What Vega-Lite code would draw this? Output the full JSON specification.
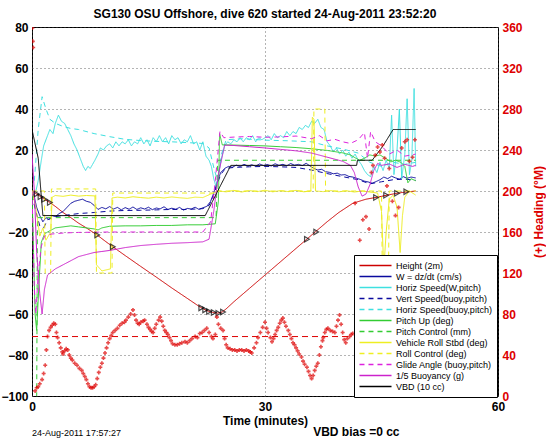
{
"$schema":"https://vega.github.io/schema/vega-lite/v6.json",
"width":466,"height":369,
"autosize":{"type":"none"},
"padding":{"left":32,"top":27,"right":48,"bottom":46},
"title":{"text":"SG130 OSU Offshore, dive 620 started 24-Aug-2011 23:52:20","fontSize":12,"fontWeight":"bold","font":"Liberation Sans","offset":0,"color":"black"},
"config":{"font":"Liberation Sans","view":{"stroke":"black","strokeWidth":1},
"axis":{"labelFontSize":12,"labelFontWeight":"bold","labelColor":"black","titleFontSize":12,"titleFontWeight":"bold","titleColor":"black","ticks":false,"domain":false,"grid":false,"labelPadding":4}},
"datasets":{
"series":[
{"s":"Height (2m)","t":0,"v":0},{"s":"Height (2m)","t":0.5,"v":-1.3},{"s":"Height (2m)","t":1,"v":-2.5},{"s":"Height (2m)","t":1.5,"v":-3.8},{"s":"Height (2m)","t":2.3,"v":-5.6},{"s":"Height (2m)","t":3,"v":-7.5},{"s":"Height (2m)","t":4,"v":-10.5},{"s":"Height (2m)","t":5,"v":-13},{"s":"Height (2m)","t":6,"v":-15.7},{"s":"Height (2m)","t":7,"v":-18},{"s":"Height (2m)","t":8.4,"v":-21.5},{"s":"Height (2m)","t":9.4,"v":-24.4},{"s":"Height (2m)","t":10.4,"v":-27.2},{"s":"Height (2m)","t":12,"v":-31.5},{"s":"Height (2m)","t":14,"v":-36.8},{"s":"Height (2m)","t":16,"v":-42},{"s":"Height (2m)","t":18,"v":-47.3},{"s":"Height (2m)","t":20,"v":-52.4},{"s":"Height (2m)","t":21.6,"v":-56.5},{"s":"Height (2m)","t":22.4,"v":-58.2},{"s":"Height (2m)","t":23.2,"v":-59.2},{"s":"Height (2m)","t":23.9,"v":-59.6},{"s":"Height (2m)","t":24.5,"v":-59},{"s":"Height (2m)","t":25,"v":-57.5},{"s":"Height (2m)","t":26,"v":-54},{"s":"Height (2m)","t":28,"v":-47.5},{"s":"Height (2m)","t":30,"v":-41},{"s":"Height (2m)","t":32,"v":-34.5},{"s":"Height (2m)","t":34,"v":-28},{"s":"Height (2m)","t":36,"v":-21.5},{"s":"Height (2m)","t":38,"v":-15},{"s":"Height (2m)","t":39.5,"v":-10.5},{"s":"Height (2m)","t":41.3,"v":-6},{"s":"Height (2m)","t":43,"v":-4},{"s":"Height (2m)","t":44.5,"v":-3},{"s":"Height (2m)","t":46,"v":-1.8},{"s":"Height (2m)","t":47.5,"v":-0.8},{"s":"Height (2m)","t":49.4,"v":0},
{"s":"W = dz/dt (cm/s)","t":0,"v":0},{"s":"W = dz/dt (cm/s)","t":0.3,"v":-3},{"s":"W = dz/dt (cm/s)","t":0.6,"v":-8},{"s":"W = dz/dt (cm/s)","t":1,"v":-12},{"s":"W = dz/dt (cm/s)","t":1.4,"v":-15},{"s":"W = dz/dt (cm/s)","t":1.8,"v":-13},{"s":"W = dz/dt (cm/s)","t":2.2,"v":-14},{"s":"W = dz/dt (cm/s)","t":2.6,"v":-12},{"s":"W = dz/dt (cm/s)","t":3,"v":-12.5},{"s":"W = dz/dt (cm/s)","t":3.5,"v":-11},{"s":"W = dz/dt (cm/s)","t":4,"v":-10},{"s":"W = dz/dt (cm/s)","t":4.5,"v":-8},{"s":"W = dz/dt (cm/s)","t":5,"v":-6},{"s":"W = dz/dt (cm/s)","t":5.5,"v":-5},{"s":"W = dz/dt (cm/s)","t":6,"v":-4.5},{"s":"W = dz/dt (cm/s)","t":6.5,"v":-4},{"s":"W = dz/dt (cm/s)","t":7,"v":-5},{"s":"W = dz/dt (cm/s)","t":7.5,"v":-5.5},{"s":"W = dz/dt (cm/s)","t":8,"v":-7},{"s":"W = dz/dt (cm/s)","t":8.5,"v":-9},{"s":"W = dz/dt (cm/s)","t":9,"v":-8},{"s":"W = dz/dt (cm/s)","t":9.5,"v":-8.7},{"s":"W = dz/dt (cm/s)","t":10,"v":-7.6},{"s":"W = dz/dt (cm/s)","t":10.5,"v":-8.8},{"s":"W = dz/dt (cm/s)","t":11,"v":-8},{"s":"W = dz/dt (cm/s)","t":11.5,"v":-9.2},{"s":"W = dz/dt (cm/s)","t":12,"v":-8.1},{"s":"W = dz/dt (cm/s)","t":12.5,"v":-8.9},{"s":"W = dz/dt (cm/s)","t":13,"v":-7.8},{"s":"W = dz/dt (cm/s)","t":13.5,"v":-9},{"s":"W = dz/dt (cm/s)","t":14,"v":-8.2},{"s":"W = dz/dt (cm/s)","t":14.5,"v":-8.8},{"s":"W = dz/dt (cm/s)","t":15,"v":-7.9},{"s":"W = dz/dt (cm/s)","t":15.5,"v":-9.1},{"s":"W = dz/dt (cm/s)","t":16,"v":-8.3},{"s":"W = dz/dt (cm/s)","t":16.5,"v":-8.7},{"s":"W = dz/dt (cm/s)","t":17,"v":-7.7},{"s":"W = dz/dt (cm/s)","t":17.5,"v":-9},{"s":"W = dz/dt (cm/s)","t":18,"v":-8.4},{"s":"W = dz/dt (cm/s)","t":18.5,"v":-8.9},{"s":"W = dz/dt (cm/s)","t":19,"v":-8},{"s":"W = dz/dt (cm/s)","t":19.5,"v":-9.3},{"s":"W = dz/dt (cm/s)","t":20,"v":-8.5},{"s":"W = dz/dt (cm/s)","t":20.5,"v":-8.8},{"s":"W = dz/dt (cm/s)","t":21,"v":-7.9},{"s":"W = dz/dt (cm/s)","t":21.5,"v":-9},{"s":"W = dz/dt (cm/s)","t":22,"v":-8.2},{"s":"W = dz/dt (cm/s)","t":22.5,"v":-7.5},{"s":"W = dz/dt (cm/s)","t":23,"v":-5},{"s":"W = dz/dt (cm/s)","t":23.4,"v":-1},{"s":"W = dz/dt (cm/s)","t":23.8,"v":4},{"s":"W = dz/dt (cm/s)","t":24.3,"v":9},{"s":"W = dz/dt (cm/s)","t":24.8,"v":11},{"s":"W = dz/dt (cm/s)","t":25.3,"v":12},{"s":"W = dz/dt (cm/s)","t":25.8,"v":11.6},{"s":"W = dz/dt (cm/s)","t":26.3,"v":12.6},{"s":"W = dz/dt (cm/s)","t":26.8,"v":12},{"s":"W = dz/dt (cm/s)","t":27.3,"v":13},{"s":"W = dz/dt (cm/s)","t":27.8,"v":12.2},{"s":"W = dz/dt (cm/s)","t":28.3,"v":12.8},{"s":"W = dz/dt (cm/s)","t":28.8,"v":12.1},{"s":"W = dz/dt (cm/s)","t":29.3,"v":13.2},{"s":"W = dz/dt (cm/s)","t":29.8,"v":12.4},{"s":"W = dz/dt (cm/s)","t":30.3,"v":12.9},{"s":"W = dz/dt (cm/s)","t":30.8,"v":12.2},{"s":"W = dz/dt (cm/s)","t":31.3,"v":13.3},{"s":"W = dz/dt (cm/s)","t":31.8,"v":12.5},{"s":"W = dz/dt (cm/s)","t":32.3,"v":13},{"s":"W = dz/dt (cm/s)","t":32.8,"v":12.3},{"s":"W = dz/dt (cm/s)","t":33.3,"v":13.4},{"s":"W = dz/dt (cm/s)","t":33.8,"v":12.6},{"s":"W = dz/dt (cm/s)","t":34.3,"v":13},{"s":"W = dz/dt (cm/s)","t":34.8,"v":12.4},{"s":"W = dz/dt (cm/s)","t":35.3,"v":13.5},{"s":"W = dz/dt (cm/s)","t":35.8,"v":12.2},{"s":"W = dz/dt (cm/s)","t":36.3,"v":11},{"s":"W = dz/dt (cm/s)","t":36.8,"v":10.2},{"s":"W = dz/dt (cm/s)","t":37.3,"v":10.6},{"s":"W = dz/dt (cm/s)","t":37.8,"v":9.4},{"s":"W = dz/dt (cm/s)","t":38.3,"v":9.1},{"s":"W = dz/dt (cm/s)","t":38.8,"v":8.4},{"s":"W = dz/dt (cm/s)","t":39.3,"v":8.7},{"s":"W = dz/dt (cm/s)","t":39.8,"v":7.8},{"s":"W = dz/dt (cm/s)","t":40.3,"v":8},{"s":"W = dz/dt (cm/s)","t":40.8,"v":7.1},{"s":"W = dz/dt (cm/s)","t":41.3,"v":6.8},{"s":"W = dz/dt (cm/s)","t":41.8,"v":6.2},{"s":"W = dz/dt (cm/s)","t":42.3,"v":5.6},{"s":"W = dz/dt (cm/s)","t":42.8,"v":4.8},{"s":"W = dz/dt (cm/s)","t":43.3,"v":4.4},{"s":"W = dz/dt (cm/s)","t":43.8,"v":3.8},{"s":"W = dz/dt (cm/s)","t":44.3,"v":4.6},{"s":"W = dz/dt (cm/s)","t":44.8,"v":5.5},{"s":"W = dz/dt (cm/s)","t":45.3,"v":6.8},{"s":"W = dz/dt (cm/s)","t":45.8,"v":6},{"s":"W = dz/dt (cm/s)","t":46.3,"v":7.2},{"s":"W = dz/dt (cm/s)","t":46.8,"v":6.4},{"s":"W = dz/dt (cm/s)","t":47.3,"v":5.8},{"s":"W = dz/dt (cm/s)","t":47.8,"v":7},{"s":"W = dz/dt (cm/s)","t":48.3,"v":6.2},{"s":"W = dz/dt (cm/s)","t":48.8,"v":6.8},{"s":"W = dz/dt (cm/s)","t":49.4,"v":6.4},
{"s":"Horiz Speed(W,pitch)","t":0.5,"v":0},{"s":"Horiz Speed(W,pitch)","t":0.8,"v":5},{"s":"Horiz Speed(W,pitch)","t":1.2,"v":15},{"s":"Horiz Speed(W,pitch)","t":1.5,"v":22},{"s":"Horiz Speed(W,pitch)","t":2,"v":27},{"s":"Horiz Speed(W,pitch)","t":2.3,"v":30},{"s":"Horiz Speed(W,pitch)","t":2.7,"v":28},{"s":"Horiz Speed(W,pitch)","t":3,"v":33},{"s":"Horiz Speed(W,pitch)","t":3.4,"v":37},{"s":"Horiz Speed(W,pitch)","t":3.8,"v":34},{"s":"Horiz Speed(W,pitch)","t":4.2,"v":33},{"s":"Horiz Speed(W,pitch)","t":4.6,"v":30},{"s":"Horiz Speed(W,pitch)","t":5,"v":27},{"s":"Horiz Speed(W,pitch)","t":5.4,"v":23},{"s":"Horiz Speed(W,pitch)","t":5.8,"v":20},{"s":"Horiz Speed(W,pitch)","t":6.2,"v":16},{"s":"Horiz Speed(W,pitch)","t":6.6,"v":12},{"s":"Horiz Speed(W,pitch)","t":6.9,"v":10},{"s":"Horiz Speed(W,pitch)","t":7.2,"v":12},{"s":"Horiz Speed(W,pitch)","t":7.5,"v":11},{"s":"Horiz Speed(W,pitch)","t":7.8,"v":13},{"s":"Horiz Speed(W,pitch)","t":8.1,"v":15},{"s":"Horiz Speed(W,pitch)","t":8.5,"v":18},{"s":"Horiz Speed(W,pitch)","t":8.8,"v":21},{"s":"Horiz Speed(W,pitch)","t":9.2,"v":20},{"s":"Horiz Speed(W,pitch)","t":9.6,"v":22},{"s":"Horiz Speed(W,pitch)","t":10,"v":23},{"s":"Horiz Speed(W,pitch)","t":10.4,"v":21},{"s":"Horiz Speed(W,pitch)","t":10.8,"v":24},{"s":"Horiz Speed(W,pitch)","t":11.2,"v":22},{"s":"Horiz Speed(W,pitch)","t":11.6,"v":24},{"s":"Horiz Speed(W,pitch)","t":12,"v":23},{"s":"Horiz Speed(W,pitch)","t":12.4,"v":25},{"s":"Horiz Speed(W,pitch)","t":12.8,"v":22},{"s":"Horiz Speed(W,pitch)","t":13.2,"v":24},{"s":"Horiz Speed(W,pitch)","t":13.6,"v":23},{"s":"Horiz Speed(W,pitch)","t":14,"v":26},{"s":"Horiz Speed(W,pitch)","t":14.4,"v":23},{"s":"Horiz Speed(W,pitch)","t":14.8,"v":25},{"s":"Horiz Speed(W,pitch)","t":15.2,"v":22},{"s":"Horiz Speed(W,pitch)","t":15.6,"v":26},{"s":"Horiz Speed(W,pitch)","t":16,"v":24},{"s":"Horiz Speed(W,pitch)","t":16.4,"v":27},{"s":"Horiz Speed(W,pitch)","t":16.8,"v":24},{"s":"Horiz Speed(W,pitch)","t":17.2,"v":26},{"s":"Horiz Speed(W,pitch)","t":17.6,"v":23},{"s":"Horiz Speed(W,pitch)","t":18,"v":27},{"s":"Horiz Speed(W,pitch)","t":18.4,"v":25},{"s":"Horiz Speed(W,pitch)","t":18.8,"v":26},{"s":"Horiz Speed(W,pitch)","t":19.2,"v":23},{"s":"Horiz Speed(W,pitch)","t":19.6,"v":25},{"s":"Horiz Speed(W,pitch)","t":20,"v":24},{"s":"Horiz Speed(W,pitch)","t":20.4,"v":27},{"s":"Horiz Speed(W,pitch)","t":20.8,"v":23},{"s":"Horiz Speed(W,pitch)","t":21.2,"v":24},{"s":"Horiz Speed(W,pitch)","t":21.6,"v":20},{"s":"Horiz Speed(W,pitch)","t":22,"v":24},{"s":"Horiz Speed(W,pitch)","t":22.4,"v":17},{"s":"Horiz Speed(W,pitch)","t":22.8,"v":15},{"s":"Horiz Speed(W,pitch)","t":23.1,"v":12},{"s":"Horiz Speed(W,pitch)","t":23.4,"v":6},{"s":"Horiz Speed(W,pitch)","t":23.7,"v":2},{"s":"Horiz Speed(W,pitch)","t":24,"v":8},{"s":"Horiz Speed(W,pitch)","t":24.4,"v":16},{"s":"Horiz Speed(W,pitch)","t":24.8,"v":22},{"s":"Horiz Speed(W,pitch)","t":25.2,"v":24},{"s":"Horiz Speed(W,pitch)","t":25.6,"v":23},{"s":"Horiz Speed(W,pitch)","t":26,"v":25},{"s":"Horiz Speed(W,pitch)","t":26.4,"v":24},{"s":"Horiz Speed(W,pitch)","t":26.8,"v":26},{"s":"Horiz Speed(W,pitch)","t":27.2,"v":24},{"s":"Horiz Speed(W,pitch)","t":27.6,"v":26},{"s":"Horiz Speed(W,pitch)","t":28,"v":25},{"s":"Horiz Speed(W,pitch)","t":28.4,"v":27},{"s":"Horiz Speed(W,pitch)","t":28.8,"v":24},{"s":"Horiz Speed(W,pitch)","t":29.2,"v":26},{"s":"Horiz Speed(W,pitch)","t":29.6,"v":25},{"s":"Horiz Speed(W,pitch)","t":30,"v":26},{"s":"Horiz Speed(W,pitch)","t":30.4,"v":27},{"s":"Horiz Speed(W,pitch)","t":30.8,"v":25},{"s":"Horiz Speed(W,pitch)","t":31.2,"v":28},{"s":"Horiz Speed(W,pitch)","t":31.6,"v":26},{"s":"Horiz Speed(W,pitch)","t":32,"v":27},{"s":"Horiz Speed(W,pitch)","t":32.4,"v":26},{"s":"Horiz Speed(W,pitch)","t":32.8,"v":29},{"s":"Horiz Speed(W,pitch)","t":33.2,"v":27},{"s":"Horiz Speed(W,pitch)","t":33.6,"v":29},{"s":"Horiz Speed(W,pitch)","t":34,"v":28},{"s":"Horiz Speed(W,pitch)","t":34.4,"v":31},{"s":"Horiz Speed(W,pitch)","t":34.8,"v":30},{"s":"Horiz Speed(W,pitch)","t":35.2,"v":32},{"s":"Horiz Speed(W,pitch)","t":35.6,"v":31},{"s":"Horiz Speed(W,pitch)","t":36,"v":34},{"s":"Horiz Speed(W,pitch)","t":36.4,"v":33},{"s":"Horiz Speed(W,pitch)","t":36.8,"v":35},{"s":"Horiz Speed(W,pitch)","t":37.2,"v":31},{"s":"Horiz Speed(W,pitch)","t":37.6,"v":30},{"s":"Horiz Speed(W,pitch)","t":38,"v":24},{"s":"Horiz Speed(W,pitch)","t":38.4,"v":22},{"s":"Horiz Speed(W,pitch)","t":38.8,"v":19},{"s":"Horiz Speed(W,pitch)","t":39.2,"v":21},{"s":"Horiz Speed(W,pitch)","t":39.6,"v":18},{"s":"Horiz Speed(W,pitch)","t":40,"v":20},{"s":"Horiz Speed(W,pitch)","t":40.4,"v":17},{"s":"Horiz Speed(W,pitch)","t":40.8,"v":19},{"s":"Horiz Speed(W,pitch)","t":41.2,"v":16},{"s":"Horiz Speed(W,pitch)","t":41.6,"v":18},{"s":"Horiz Speed(W,pitch)","t":42,"v":15},{"s":"Horiz Speed(W,pitch)","t":42.4,"v":13},{"s":"Horiz Speed(W,pitch)","t":42.8,"v":10},{"s":"Horiz Speed(W,pitch)","t":43.2,"v":8},{"s":"Horiz Speed(W,pitch)","t":43.6,"v":7},{"s":"Horiz Speed(W,pitch)","t":44,"v":12},{"s":"Horiz Speed(W,pitch)","t":44.4,"v":9},{"s":"Horiz Speed(W,pitch)","t":44.8,"v":14},{"s":"Horiz Speed(W,pitch)","t":45.2,"v":10},{"s":"Horiz Speed(W,pitch)","t":45.6,"v":15},{"s":"Horiz Speed(W,pitch)","t":46,"v":11},{"s":"Horiz Speed(W,pitch)","t":46.3,"v":37},{"s":"Horiz Speed(W,pitch)","t":46.6,"v":8},{"s":"Horiz Speed(W,pitch)","t":47,"v":20},{"s":"Horiz Speed(W,pitch)","t":47.3,"v":40},{"s":"Horiz Speed(W,pitch)","t":47.6,"v":6},{"s":"Horiz Speed(W,pitch)","t":48,"v":18},{"s":"Horiz Speed(W,pitch)","t":48.3,"v":45},{"s":"Horiz Speed(W,pitch)","t":48.6,"v":8},{"s":"Horiz Speed(W,pitch)","t":48.9,"v":15},{"s":"Horiz Speed(W,pitch)","t":49.2,"v":50},{"s":"Horiz Speed(W,pitch)","t":49.4,"v":12},
{"s":"Vert Speed(buoy,pitch)","t":0,"v":-2},{"s":"Vert Speed(buoy,pitch)","t":0.5,"v":-10},{"s":"Vert Speed(buoy,pitch)","t":1,"v":-17},{"s":"Vert Speed(buoy,pitch)","t":1.5,"v":-18},{"s":"Vert Speed(buoy,pitch)","t":2,"v":-14},{"s":"Vert Speed(buoy,pitch)","t":3,"v":-12.5},{"s":"Vert Speed(buoy,pitch)","t":4,"v":-12},{"s":"Vert Speed(buoy,pitch)","t":5,"v":-11.5},{"s":"Vert Speed(buoy,pitch)","t":6,"v":-11},{"s":"Vert Speed(buoy,pitch)","t":8,"v":-10.5},{"s":"Vert Speed(buoy,pitch)","t":10,"v":-9.8},{"s":"Vert Speed(buoy,pitch)","t":12,"v":-9.5},{"s":"Vert Speed(buoy,pitch)","t":14,"v":-9.4},{"s":"Vert Speed(buoy,pitch)","t":16,"v":-9.2},{"s":"Vert Speed(buoy,pitch)","t":18,"v":-9},{"s":"Vert Speed(buoy,pitch)","t":20,"v":-9},{"s":"Vert Speed(buoy,pitch)","t":22,"v":-8.6},{"s":"Vert Speed(buoy,pitch)","t":22.8,"v":-7},{"s":"Vert Speed(buoy,pitch)","t":23.3,"v":-3},{"s":"Vert Speed(buoy,pitch)","t":23.8,"v":3},{"s":"Vert Speed(buoy,pitch)","t":24.3,"v":8},{"s":"Vert Speed(buoy,pitch)","t":24.9,"v":11},{"s":"Vert Speed(buoy,pitch)","t":26,"v":11.5},{"s":"Vert Speed(buoy,pitch)","t":28,"v":11.8},{"s":"Vert Speed(buoy,pitch)","t":30,"v":12},{"s":"Vert Speed(buoy,pitch)","t":32,"v":11.8},{"s":"Vert Speed(buoy,pitch)","t":34,"v":11.5},{"s":"Vert Speed(buoy,pitch)","t":36,"v":10.2},{"s":"Vert Speed(buoy,pitch)","t":38,"v":8.5},{"s":"Vert Speed(buoy,pitch)","t":40,"v":7},{"s":"Vert Speed(buoy,pitch)","t":42,"v":5.5},{"s":"Vert Speed(buoy,pitch)","t":43.5,"v":3.5},{"s":"Vert Speed(buoy,pitch)","t":45,"v":4.5},{"s":"Vert Speed(buoy,pitch)","t":46.5,"v":5.5},{"s":"Vert Speed(buoy,pitch)","t":48,"v":5.8},{"s":"Vert Speed(buoy,pitch)","t":49.4,"v":5.2},
{"s":"Horiz Speed(buoy,pitch)","t":0.3,"v":5},{"s":"Horiz Speed(buoy,pitch)","t":0.8,"v":30},{"s":"Horiz Speed(buoy,pitch)","t":1.3,"v":46},{"s":"Horiz Speed(buoy,pitch)","t":1.8,"v":40},{"s":"Horiz Speed(buoy,pitch)","t":2.3,"v":35},{"s":"Horiz Speed(buoy,pitch)","t":3,"v":33},{"s":"Horiz Speed(buoy,pitch)","t":4,"v":31.5},{"s":"Horiz Speed(buoy,pitch)","t":5,"v":30.5},{"s":"Horiz Speed(buoy,pitch)","t":6,"v":30},{"s":"Horiz Speed(buoy,pitch)","t":8,"v":28},{"s":"Horiz Speed(buoy,pitch)","t":10,"v":26.5},{"s":"Horiz Speed(buoy,pitch)","t":12,"v":25.2},{"s":"Horiz Speed(buoy,pitch)","t":14,"v":24.6},{"s":"Horiz Speed(buoy,pitch)","t":16,"v":24.2},{"s":"Horiz Speed(buoy,pitch)","t":18,"v":24},{"s":"Horiz Speed(buoy,pitch)","t":20,"v":23.6},{"s":"Horiz Speed(buoy,pitch)","t":22,"v":23.2},{"s":"Horiz Speed(buoy,pitch)","t":22.8,"v":21},{"s":"Horiz Speed(buoy,pitch)","t":23.5,"v":10},{"s":"Horiz Speed(buoy,pitch)","t":23.9,"v":5},{"s":"Horiz Speed(buoy,pitch)","t":24.4,"v":18},{"s":"Horiz Speed(buoy,pitch)","t":25,"v":25},{"s":"Horiz Speed(buoy,pitch)","t":27,"v":25.5},{"s":"Horiz Speed(buoy,pitch)","t":30,"v":24.8},{"s":"Horiz Speed(buoy,pitch)","t":33,"v":24.5},{"s":"Horiz Speed(buoy,pitch)","t":36,"v":24},{"s":"Horiz Speed(buoy,pitch)","t":38,"v":22},{"s":"Horiz Speed(buoy,pitch)","t":40,"v":20.5},{"s":"Horiz Speed(buoy,pitch)","t":42,"v":18.5},{"s":"Horiz Speed(buoy,pitch)","t":43.5,"v":14},{"s":"Horiz Speed(buoy,pitch)","t":45,"v":12},{"s":"Horiz Speed(buoy,pitch)","t":46.5,"v":14},{"s":"Horiz Speed(buoy,pitch)","t":48,"v":13},{"s":"Horiz Speed(buoy,pitch)","t":49.4,"v":14},
{"s":"Pitch Up (deg)","t":0,"v":0},{"s":"Pitch Up (deg)","t":0.2,"v":-30},{"s":"Pitch Up (deg)","t":0.4,"v":-60},{"s":"Pitch Up (deg)","t":0.6,"v":-68},{"s":"Pitch Up (deg)","t":0.9,"v":-45},{"s":"Pitch Up (deg)","t":1.2,"v":-25},{"s":"Pitch Up (deg)","t":1.6,"v":-21},{"s":"Pitch Up (deg)","t":2,"v":-20},{"s":"Pitch Up (deg)","t":2.5,"v":-19},{"s":"Pitch Up (deg)","t":3,"v":-18},{"s":"Pitch Up (deg)","t":4,"v":-17.5},{"s":"Pitch Up (deg)","t":5,"v":-17},{"s":"Pitch Up (deg)","t":6,"v":-17.5},{"s":"Pitch Up (deg)","t":7,"v":-18},{"s":"Pitch Up (deg)","t":8,"v":-18.5},{"s":"Pitch Up (deg)","t":8.5,"v":-19},{"s":"Pitch Up (deg)","t":9,"v":-18},{"s":"Pitch Up (deg)","t":10,"v":-17.2},{"s":"Pitch Up (deg)","t":12,"v":-17},{"s":"Pitch Up (deg)","t":14,"v":-17},{"s":"Pitch Up (deg)","t":16,"v":-16.8},{"s":"Pitch Up (deg)","t":18,"v":-16.8},{"s":"Pitch Up (deg)","t":20,"v":-16.5},{"s":"Pitch Up (deg)","t":22,"v":-16.5},{"s":"Pitch Up (deg)","t":23.6,"v":-16},{"s":"Pitch Up (deg)","t":24,"v":-5},{"s":"Pitch Up (deg)","t":24.15,"v":28},{"s":"Pitch Up (deg)","t":24.5,"v":22.5},{"s":"Pitch Up (deg)","t":26,"v":22.4},{"s":"Pitch Up (deg)","t":28,"v":22.2},{"s":"Pitch Up (deg)","t":30,"v":22},{"s":"Pitch Up (deg)","t":32,"v":21.6},{"s":"Pitch Up (deg)","t":34,"v":21.2},{"s":"Pitch Up (deg)","t":36,"v":20.6},{"s":"Pitch Up (deg)","t":38,"v":19.8},{"s":"Pitch Up (deg)","t":40,"v":18.6},{"s":"Pitch Up (deg)","t":41,"v":17.6},{"s":"Pitch Up (deg)","t":41.6,"v":16.2},{"s":"Pitch Up (deg)","t":42.2,"v":15},{"s":"Pitch Up (deg)","t":42.8,"v":16},{"s":"Pitch Up (deg)","t":43.5,"v":17.6},{"s":"Pitch Up (deg)","t":44.2,"v":17},{"s":"Pitch Up (deg)","t":44.8,"v":17.6},{"s":"Pitch Up (deg)","t":45.5,"v":16},{"s":"Pitch Up (deg)","t":46.2,"v":14.2},{"s":"Pitch Up (deg)","t":46.8,"v":15},{"s":"Pitch Up (deg)","t":47.5,"v":14},{"s":"Pitch Up (deg)","t":48,"v":12},{"s":"Pitch Up (deg)","t":48.4,"v":4},{"s":"Pitch Up (deg)","t":48.8,"v":6},{"s":"Pitch Up (deg)","t":49.4,"v":5},
{"s":"Pitch Control (mm)","t":0.6,"v":-105},{"s":"Pitch Control (mm)","t":0.7,"v":-13},{"s":"Pitch Control (mm)","t":23.7,"v":-13},{"s":"Pitch Control (mm)","t":23.9,"v":15},{"s":"Pitch Control (mm)","t":49.4,"v":15},
{"s":"Vehicle Roll Stbd (deg)","t":0,"v":0},{"s":"Vehicle Roll Stbd (deg)","t":0.5,"v":-8},{"s":"Vehicle Roll Stbd (deg)","t":1,"v":-22},{"s":"Vehicle Roll Stbd (deg)","t":1.4,"v":-18},{"s":"Vehicle Roll Stbd (deg)","t":1.8,"v":-24},{"s":"Vehicle Roll Stbd (deg)","t":2.4,"v":-20},{"s":"Vehicle Roll Stbd (deg)","t":2.6,"v":-3},{"s":"Vehicle Roll Stbd (deg)","t":3,"v":-2.2},{"s":"Vehicle Roll Stbd (deg)","t":4,"v":-2.6},{"s":"Vehicle Roll Stbd (deg)","t":5,"v":-2},{"s":"Vehicle Roll Stbd (deg)","t":6,"v":-2.5},{"s":"Vehicle Roll Stbd (deg)","t":7,"v":-2.2},{"s":"Vehicle Roll Stbd (deg)","t":8.1,"v":-2.4},{"s":"Vehicle Roll Stbd (deg)","t":8.3,"v":-36},{"s":"Vehicle Roll Stbd (deg)","t":9,"v":-39},{"s":"Vehicle Roll Stbd (deg)","t":10.1,"v":-38},{"s":"Vehicle Roll Stbd (deg)","t":10.3,"v":-3.4},{"s":"Vehicle Roll Stbd (deg)","t":11,"v":-3},{"s":"Vehicle Roll Stbd (deg)","t":12,"v":-3.4},{"s":"Vehicle Roll Stbd (deg)","t":13,"v":-2.8},{"s":"Vehicle Roll Stbd (deg)","t":14,"v":-3.2},{"s":"Vehicle Roll Stbd (deg)","t":15,"v":-3.5},{"s":"Vehicle Roll Stbd (deg)","t":16,"v":-3},{"s":"Vehicle Roll Stbd (deg)","t":17,"v":-3.4},{"s":"Vehicle Roll Stbd (deg)","t":18,"v":-2.9},{"s":"Vehicle Roll Stbd (deg)","t":19,"v":-3.3},{"s":"Vehicle Roll Stbd (deg)","t":20,"v":-3.6},{"s":"Vehicle Roll Stbd (deg)","t":21,"v":-3},{"s":"Vehicle Roll Stbd (deg)","t":22,"v":-3.2},{"s":"Vehicle Roll Stbd (deg)","t":23,"v":-1.5},{"s":"Vehicle Roll Stbd (deg)","t":24,"v":0},{"s":"Vehicle Roll Stbd (deg)","t":25,"v":-0.4},{"s":"Vehicle Roll Stbd (deg)","t":26,"v":0.3},{"s":"Vehicle Roll Stbd (deg)","t":27,"v":-0.5},{"s":"Vehicle Roll Stbd (deg)","t":28,"v":0.2},{"s":"Vehicle Roll Stbd (deg)","t":29,"v":-0.3},{"s":"Vehicle Roll Stbd (deg)","t":30,"v":0.4},{"s":"Vehicle Roll Stbd (deg)","t":31,"v":-0.4},{"s":"Vehicle Roll Stbd (deg)","t":32,"v":0.2},{"s":"Vehicle Roll Stbd (deg)","t":33,"v":-0.3},{"s":"Vehicle Roll Stbd (deg)","t":34,"v":0.3},{"s":"Vehicle Roll Stbd (deg)","t":35,"v":-0.4},{"s":"Vehicle Roll Stbd (deg)","t":35.9,"v":0},{"s":"Vehicle Roll Stbd (deg)","t":36.1,"v":36},{"s":"Vehicle Roll Stbd (deg)","t":36.3,"v":35},{"s":"Vehicle Roll Stbd (deg)","t":36.5,"v":0},{"s":"Vehicle Roll Stbd (deg)","t":37.5,"v":-0.3},{"s":"Vehicle Roll Stbd (deg)","t":38.5,"v":0.2},{"s":"Vehicle Roll Stbd (deg)","t":39.5,"v":-0.4},{"s":"Vehicle Roll Stbd (deg)","t":40.5,"v":0.1},{"s":"Vehicle Roll Stbd (deg)","t":41.5,"v":-0.5},{"s":"Vehicle Roll Stbd (deg)","t":42.5,"v":0},{"s":"Vehicle Roll Stbd (deg)","t":43.5,"v":-0.5},{"s":"Vehicle Roll Stbd (deg)","t":44.5,"v":-1},{"s":"Vehicle Roll Stbd (deg)","t":45,"v":-10},{"s":"Vehicle Roll Stbd (deg)","t":45.3,"v":-38},{"s":"Vehicle Roll Stbd (deg)","t":45.6,"v":-20},{"s":"Vehicle Roll Stbd (deg)","t":46,"v":-4},{"s":"Vehicle Roll Stbd (deg)","t":46.5,"v":-2},{"s":"Vehicle Roll Stbd (deg)","t":47,"v":-8},{"s":"Vehicle Roll Stbd (deg)","t":47.4,"v":-30},{"s":"Vehicle Roll Stbd (deg)","t":47.7,"v":-12},{"s":"Vehicle Roll Stbd (deg)","t":48,"v":-3},{"s":"Vehicle Roll Stbd (deg)","t":48.6,"v":0},{"s":"Vehicle Roll Stbd (deg)","t":49.4,"v":-2},
{"s":"Roll Control (deg)","t":0,"v":0},{"s":"Roll Control (deg)","t":1.6,"v":0},{"s":"Roll Control (deg)","t":1.7,"v":-40},{"s":"Roll Control (deg)","t":2.4,"v":-40},{"s":"Roll Control (deg)","t":2.5,"v":1},{"s":"Roll Control (deg)","t":8.2,"v":1},{"s":"Roll Control (deg)","t":8.3,"v":-40},{"s":"Roll Control (deg)","t":10.3,"v":-40},{"s":"Roll Control (deg)","t":10.4,"v":-1},{"s":"Roll Control (deg)","t":23.5,"v":-1},{"s":"Roll Control (deg)","t":23.6,"v":0},{"s":"Roll Control (deg)","t":36.2,"v":0},{"s":"Roll Control (deg)","t":36.3,"v":40},{"s":"Roll Control (deg)","t":37.7,"v":40},{"s":"Roll Control (deg)","t":37.8,"v":0},{"s":"Roll Control (deg)","t":45,"v":0},{"s":"Roll Control (deg)","t":45.1,"v":-40},{"s":"Roll Control (deg)","t":45.9,"v":-40},{"s":"Roll Control (deg)","t":46,"v":0},{"s":"Roll Control (deg)","t":49.4,"v":0},
{"s":"Glide Angle (buoy,pitch)","t":0,"v":0},{"s":"Glide Angle (buoy,pitch)","t":0.3,"v":-48},{"s":"Glide Angle (buoy,pitch)","t":0.5,"v":-60},{"s":"Glide Angle (buoy,pitch)","t":0.8,"v":-40},{"s":"Glide Angle (buoy,pitch)","t":1.2,"v":-27},{"s":"Glide Angle (buoy,pitch)","t":1.6,"v":-22},{"s":"Glide Angle (buoy,pitch)","t":2.5,"v":-21},{"s":"Glide Angle (buoy,pitch)","t":4,"v":-20.5},{"s":"Glide Angle (buoy,pitch)","t":6,"v":-20.2},{"s":"Glide Angle (buoy,pitch)","t":10,"v":-20},{"s":"Glide Angle (buoy,pitch)","t":16,"v":-20},{"s":"Glide Angle (buoy,pitch)","t":22,"v":-20},{"s":"Glide Angle (buoy,pitch)","t":23,"v":-15},{"s":"Glide Angle (buoy,pitch)","t":23.6,"v":5},{"s":"Glide Angle (buoy,pitch)","t":24.2,"v":29},{"s":"Glide Angle (buoy,pitch)","t":24.7,"v":26},{"s":"Glide Angle (buoy,pitch)","t":26,"v":26.3},{"s":"Glide Angle (buoy,pitch)","t":28,"v":26.6},{"s":"Glide Angle (buoy,pitch)","t":30,"v":26.2},{"s":"Glide Angle (buoy,pitch)","t":32,"v":26.4},{"s":"Glide Angle (buoy,pitch)","t":34,"v":26.8},{"s":"Glide Angle (buoy,pitch)","t":36,"v":25.5},{"s":"Glide Angle (buoy,pitch)","t":37,"v":27},{"s":"Glide Angle (buoy,pitch)","t":38,"v":24.5},{"s":"Glide Angle (buoy,pitch)","t":39,"v":25.2},{"s":"Glide Angle (buoy,pitch)","t":40,"v":24},{"s":"Glide Angle (buoy,pitch)","t":41,"v":23.2},{"s":"Glide Angle (buoy,pitch)","t":42,"v":25},{"s":"Glide Angle (buoy,pitch)","t":42.8,"v":28.5},{"s":"Glide Angle (buoy,pitch)","t":43.2,"v":16},{"s":"Glide Angle (buoy,pitch)","t":43.6,"v":29},{"s":"Glide Angle (buoy,pitch)","t":44.2,"v":24},{"s":"Glide Angle (buoy,pitch)","t":45,"v":22},{"s":"Glide Angle (buoy,pitch)","t":46,"v":18},{"s":"Glide Angle (buoy,pitch)","t":47,"v":20},{"s":"Glide Angle (buoy,pitch)","t":48,"v":17},{"s":"Glide Angle (buoy,pitch)","t":49.4,"v":18},
{"s":"1/5 Buoyancy (g)","t":0,"v":18},{"s":"1/5 Buoyancy (g)","t":0.3,"v":0},{"s":"1/5 Buoyancy (g)","t":0.6,"v":-30},{"s":"1/5 Buoyancy (g)","t":1,"v":-50},{"s":"1/5 Buoyancy (g)","t":1.3,"v":-60},{"s":"1/5 Buoyancy (g)","t":1.6,"v":-48},{"s":"1/5 Buoyancy (g)","t":2,"v":-41},{"s":"1/5 Buoyancy (g)","t":3,"v":-38},{"s":"1/5 Buoyancy (g)","t":4,"v":-36},{"s":"1/5 Buoyancy (g)","t":5,"v":-34},{"s":"1/5 Buoyancy (g)","t":6,"v":-32},{"s":"1/5 Buoyancy (g)","t":7,"v":-31},{"s":"1/5 Buoyancy (g)","t":8,"v":-30},{"s":"1/5 Buoyancy (g)","t":9,"v":-29.5},{"s":"1/5 Buoyancy (g)","t":10,"v":-29},{"s":"1/5 Buoyancy (g)","t":11,"v":-28.3},{"s":"1/5 Buoyancy (g)","t":12,"v":-27.6},{"s":"1/5 Buoyancy (g)","t":14,"v":-26.6},{"s":"1/5 Buoyancy (g)","t":16,"v":-26},{"s":"1/5 Buoyancy (g)","t":18,"v":-25.5},{"s":"1/5 Buoyancy (g)","t":20,"v":-25.2},{"s":"1/5 Buoyancy (g)","t":22,"v":-24.8},{"s":"1/5 Buoyancy (g)","t":22.8,"v":-23.5},{"s":"1/5 Buoyancy (g)","t":23.4,"v":-10},{"s":"1/5 Buoyancy (g)","t":24,"v":8},{"s":"1/5 Buoyancy (g)","t":24.8,"v":22.4},{"s":"1/5 Buoyancy (g)","t":26,"v":22.2},{"s":"1/5 Buoyancy (g)","t":28,"v":21.6},{"s":"1/5 Buoyancy (g)","t":30,"v":21},{"s":"1/5 Buoyancy (g)","t":32,"v":20.3},{"s":"1/5 Buoyancy (g)","t":34,"v":19.6},{"s":"1/5 Buoyancy (g)","t":36,"v":18.5},{"s":"1/5 Buoyancy (g)","t":38,"v":16.5},{"s":"1/5 Buoyancy (g)","t":40,"v":14.5},{"s":"1/5 Buoyancy (g)","t":41,"v":12.5},{"s":"1/5 Buoyancy (g)","t":41.5,"v":9},{"s":"1/5 Buoyancy (g)","t":42,"v":2},{"s":"1/5 Buoyancy (g)","t":42.5,"v":-2.5},{"s":"1/5 Buoyancy (g)","t":43,"v":-1.5},{"s":"1/5 Buoyancy (g)","t":43.5,"v":3},{"s":"1/5 Buoyancy (g)","t":44,"v":10},{"s":"1/5 Buoyancy (g)","t":44.5,"v":13.5},{"s":"1/5 Buoyancy (g)","t":45,"v":12.5},{"s":"1/5 Buoyancy (g)","t":46,"v":13.2},{"s":"1/5 Buoyancy (g)","t":47,"v":11.5},{"s":"1/5 Buoyancy (g)","t":48,"v":13},{"s":"1/5 Buoyancy (g)","t":49,"v":12},{"s":"1/5 Buoyancy (g)","t":49.4,"v":12.5},
{"s":"VBD (10 cc)","t":0,"v":30},{"s":"VBD (10 cc)","t":0.8,"v":16},{"s":"VBD (10 cc)","t":1.4,"v":-12},{"s":"VBD (10 cc)","t":22.3,"v":-12},{"s":"VBD (10 cc)","t":25.6,"v":12.5},{"s":"VBD (10 cc)","t":41.8,"v":12.5},{"s":"VBD (10 cc)","t":41.9,"v":15},{"s":"VBD (10 cc)","t":43.8,"v":15},{"s":"VBD (10 cc)","t":45.2,"v":22},{"s":"VBD (10 cc)","t":46.5,"v":30},{"s":"VBD (10 cc)","t":49.4,"v":30}
],
"markers":[{"t":0.6,"v":-1.5},{"t":1.1,"v":-2.8},{"t":1.6,"v":-4},{"t":2.3,"v":-5.6},{"t":8.4,"v":-21.5},{"t":10.4,"v":-27.2},{"t":21.8,"v":-57},{"t":22.3,"v":-58},{"t":22.8,"v":-58.8},{"t":23.4,"v":-59.3},{"t":24,"v":-59.6},{"t":24.6,"v":-59},{"t":35.4,"v":-23.5},{"t":36.6,"v":-20},{"t":44.3,"v":-3.2},{"t":45.6,"v":-2.1},{"t":47,"v":-1.1},{"t":48.2,"v":-0.4}],
"notes":[{"t":0,"v":-119.5,"txt":"24-Aug-2011 17:57:27"}],
"notes2":[{"t":36.2,"v":-119.5,"txt":"VBD bias =0 cc"}],
"target":[{"t":0,"t2":41,"h":58}],
"heading":[{"t":0.05,"h":359},{"t":0.1,"h":346},{"t":0.15,"h":340},{"t":0.4,"h":5},{"t":0.6,"h":8},{"t":0.8,"h":9},{"t":1.0,"h":12},{"t":1.3,"h":16},{"t":1.5,"h":22},{"t":1.7,"h":30},{"t":1.85,"h":45},{"t":2.0,"h":58},{"t":2.2,"h":64},{"t":2.4,"h":67},{"t":2.6,"h":69},{"t":2.8,"h":71},{"t":3.0,"h":70},{"t":3.15,"h":62},{"t":3.3,"h":57},{"t":3.5,"h":52},{"t":3.7,"h":47},{"t":3.9,"h":43},{"t":4.0,"h":41},{"t":4.2,"h":44},{"t":4.4,"h":46},{"t":4.6,"h":45},{"t":4.8,"h":40},{"t":5.0,"h":37},{"t":5.2,"h":35},{"t":5.5,"h":32},{"t":5.8,"h":30},{"t":6.1,"h":27},{"t":6.4,"h":25},{"t":6.6,"h":22},{"t":6.8,"h":19},{"t":7.0,"h":16},{"t":7.2,"h":12},{"t":7.4,"h":9},{"t":7.6,"h":8},{"t":7.8,"h":8},{"t":8.0,"h":9},{"t":8.2,"h":11},{"t":8.4,"h":17},{"t":8.6,"h":23},{"t":8.8,"h":28},{"t":9.0,"h":32},{"t":9.2,"h":37},{"t":9.4,"h":42},{"t":9.6,"h":47},{"t":9.8,"h":52},{"t":10.0,"h":56},{"t":10.2,"h":59},{"t":10.4,"h":62},{"t":10.7,"h":64},{"t":11.0,"h":66},{"t":11.3,"h":69},{"t":11.6,"h":71},{"t":11.9,"h":72},{"t":12.1,"h":74},{"t":12.4,"h":77},{"t":12.7,"h":80},{"t":13.0,"h":84},{"t":13.2,"h":79},{"t":13.4,"h":74},{"t":13.6,"h":71},{"t":13.8,"h":70},{"t":14.0,"h":72},{"t":14.3,"h":73},{"t":14.5,"h":74},{"t":14.8,"h":70},{"t":15.0,"h":67},{"t":15.2,"h":65},{"t":15.4,"h":63},{"t":15.6,"h":62},{"t":15.8,"h":66},{"t":16.0,"h":70},{"t":16.3,"h":74},{"t":16.5,"h":77},{"t":16.7,"h":73},{"t":16.9,"h":68},{"t":17.1,"h":64},{"t":17.3,"h":62},{"t":17.5,"h":60},{"t":17.7,"h":57},{"t":17.9,"h":54},{"t":18.1,"h":51},{"t":18.4,"h":50},{"t":18.7,"h":50},{"t":19.0,"h":51},{"t":19.3,"h":52},{"t":19.7,"h":53},{"t":20.0,"h":52},{"t":20.3,"h":54},{"t":20.6,"h":56},{"t":21.0,"h":58},{"t":21.3,"h":57},{"t":21.6,"h":61},{"t":21.9,"h":62},{"t":22.2,"h":64},{"t":22.5,"h":66},{"t":22.8,"h":62},{"t":23.1,"h":58},{"t":23.3,"h":56},{"t":23.6,"h":60},{"t":23.8,"h":77},{"t":24.0,"h":70},{"t":24.3,"h":66},{"t":24.6,"h":64},{"t":24.8,"h":56},{"t":25.0,"h":50},{"t":25.2,"h":47},{"t":25.5,"h":46},{"t":25.8,"h":45},{"t":26.1,"h":45},{"t":26.4,"h":44},{"t":26.7,"h":45},{"t":27.0,"h":45},{"t":27.3,"h":44},{"t":27.6,"h":45},{"t":27.9,"h":44},{"t":28.1,"h":43},{"t":28.3,"h":42},{"t":28.6,"h":47},{"t":28.9,"h":52},{"t":29.1,"h":57},{"t":29.4,"h":62},{"t":29.7,"h":67},{"t":30.0,"h":72},{"t":30.2,"h":66},{"t":30.4,"h":62},{"t":30.7,"h":57},{"t":30.9,"h":53},{"t":31.1,"h":56},{"t":31.3,"h":60},{"t":31.5,"h":64},{"t":31.7,"h":67},{"t":31.9,"h":71},{"t":32.1,"h":74},{"t":32.3,"h":76},{"t":32.5,"h":72},{"t":32.7,"h":68},{"t":33.0,"h":64},{"t":33.2,"h":60},{"t":33.4,"h":56},{"t":33.6,"h":52},{"t":33.8,"h":50},{"t":34.0,"h":47},{"t":34.2,"h":44},{"t":34.4,"h":41},{"t":34.7,"h":38},{"t":34.9,"h":34},{"t":35.1,"h":31},{"t":35.4,"h":28},{"t":35.6,"h":24},{"t":35.8,"h":20},{"t":36.0,"h":17},{"t":36.2,"h":20},{"t":36.4,"h":25},{"t":36.6,"h":29},{"t":36.8,"h":32},{"t":37.0,"h":40},{"t":37.2,"h":48},{"t":37.4,"h":54},{"t":37.5,"h":57},{"t":37.7,"h":62},{"t":37.9,"h":65},{"t":38.1,"h":66},{"t":38.4,"h":64},{"t":38.7,"h":63},{"t":39.0,"h":62},{"t":39.2,"h":68},{"t":39.4,"h":74},{"t":39.6,"h":79},{"t":39.8,"h":70},{"t":40.0,"h":62},{"t":40.2,"h":55},{"t":40.4,"h":52},{"t":40.6,"h":56},{"t":40.9,"h":58},{"t":41.1,"h":60},{"t":41.3,"h":61},{"t":41.6,"h":188},{"t":42.2,"h":152},{"t":42.6,"h":172},{"t":43.0,"h":175},{"t":43.4,"h":163},{"t":43.7,"h":218},{"t":43.9,"h":225},{"t":44.2,"h":235},{"t":44.5,"h":243},{"t":44.8,"h":238},{"t":45.1,"h":245},{"t":45.4,"h":232},{"t":45.7,"h":205},{"t":46.0,"h":222},{"t":46.4,"h":190},{"t":46.8,"h":176},{"t":47.2,"h":184},{"t":47.6,"h":242},{"t":48.0,"h":248},{"t":48.3,"h":250},{"t":48.6,"h":229},{"t":49.0,"h":233},{"t":49.3,"h":250}]
},
"layer":[
{"layer":[
{"data":{"name":"series"},
"mark":{"type":"line","strokeWidth":1,"clip":true},
"encoding":{
"x":{"field":"t","type":"quantitative","scale":{"domain":[0,60],"nice":false,"zero":false},"axis":{"values":[0,30,60],"grid":true,"gridColor":"#444","gridDash":[1,3],"gridOpacity":0.8,"title":"Time (minutes)","titlePadding":3,"labelPadding":5,"labelFlush":false}},
"y":{"field":"v","type":"quantitative","scale":{"domain":[-100,80],"nice":false,"zero":false},"axis":{"orient":"left","values":[-100,-90,-80,-70,-60,-50,-40,-30,-20,-10,0,10,20,30,40,50,60,70,80],"grid":true,"gridColor":"#444","gridDash":[1,3],"gridOpacity":0.8,"title":null}},
"color":{"field":"s","type":"nominal","scale":{"domain":["Height (2m)","W = dz/dt (cm/s)","Horiz Speed(W,pitch)","Vert Speed(buoy,pitch)","Horiz Speed(buoy,pitch)","Pitch Up (deg)","Pitch Control (mm)","Vehicle Roll Stbd (deg)","Roll Control (deg)","Glide Angle (buoy,pitch)","1/5 Buoyancy (g)","VBD (10 cc)"],"range":["#cc0000","#0a0a9e","#3ee0e0","#0a0a9e","#3ee0e0","#33cc33","#33cc33","#eeee22","#eeee22","#dd22dd","#cc22cc","#000000"]},
"legend":{"title":null,"orient":"none","legendX":322,"legendY":228,"direction":"vertical","symbolType":"M-3.56,0H3.56","symbolSize":81,"symbolOffset":11,"symbolStrokeWidth":1.5,"symbolFillColor":"transparent","labelFontSize":9,"labelFont":"Liberation Sans","labelColor":"black","labelOffset":15,"rowPadding":0,"padding":5,"fillColor":"white","strokeColor":"black"}},
"strokeDash":{"field":"s","type":"nominal","scale":{"domain":["Height (2m)","W = dz/dt (cm/s)","Horiz Speed(W,pitch)","Vert Speed(buoy,pitch)","Horiz Speed(buoy,pitch)","Pitch Up (deg)","Pitch Control (mm)","Vehicle Roll Stbd (deg)","Roll Control (deg)","Glide Angle (buoy,pitch)","1/5 Buoyancy (g)","VBD (10 cc)"],"range":[[1,0],[1,0],[1,0],[5,4],[5,4],[1,0],[5,4],[1,0],[5,4],[5,4],[1,0],[1,0]]},
"legend":{"title":null,"orient":"none","legendX":322,"legendY":228,"direction":"vertical","symbolType":"M-3.56,0H3.56","symbolSize":81,"symbolOffset":11,"symbolStrokeWidth":1.5,"symbolFillColor":"transparent","labelFontSize":9,"labelFont":"Liberation Sans","labelColor":"black","labelOffset":15,"rowPadding":0,"padding":5,"fillColor":"white","strokeColor":"black"}}
}},
{"data":{"name":"markers"},"mark":{"type":"point","shape":"triangle-right","filled":false,"color":"black","strokeWidth":1.2,"size":30,"clip":true},
"encoding":{"x":{"field":"t","type":"quantitative"},"y":{"field":"v","type":"quantitative"}}},
{"data":{"name":"notes"},"mark":{"type":"text","align":"left","baseline":"alphabetic","fontSize":9,"font":"Liberation Sans","color":"black","clip":false},
"encoding":{"x":{"field":"t","type":"quantitative"},"y":{"field":"v","type":"quantitative"},"text":{"field":"txt"}}},
{"data":{"name":"notes2"},"mark":{"type":"text","align":"left","baseline":"alphabetic","fontSize":12,"fontWeight":"bold","font":"Liberation Sans","color":"black","clip":false},
"encoding":{"x":{"field":"t","type":"quantitative"},"y":{"field":"v","type":"quantitative"},"text":{"field":"txt"}}}
]},
{"layer":[
{"data":{"name":"target"},"mark":{"type":"rule","strokeDash":[6,4],"color":"#dd0000","strokeWidth":1},
"encoding":{"x":{"field":"t","type":"quantitative"},"x2":{"field":"t2"},"y":{"field":"h","type":"quantitative","scale":{"domain":[0,360],"nice":false,"zero":false},"axis":{"orient":"right","values":[0,20,40,60,80,100,120,140,160,180,200,220,240,260,280,300,320,340,360],"labelColor":"#dd0000","title":"(+) Heading (°M)","titleColor":"#dd0000","titleAngle":270,"titleBaseline":"top","titlePadding":11,"grid":false}}}},
{"data":{"name":"heading"},"mark":{"type":"point","shape":"cross","filled":true,"color":"#dd0000","size":16,"clip":true},
"encoding":{"x":{"field":"t","type":"quantitative"},"y":{"field":"h","type":"quantitative"}}}
]}
],
"resolve":{"scale":{"y":"independent"}}
}
